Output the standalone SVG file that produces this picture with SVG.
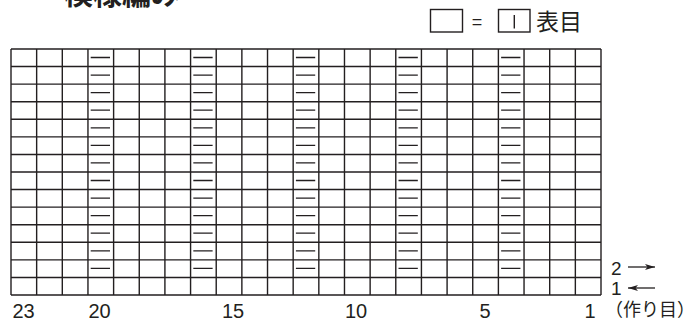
<svg xmlns="http://www.w3.org/2000/svg" width="698" height="325" viewBox="0 0 698 325">
<style>
.g{fill:none;stroke:#231f20;stroke-width:1.4}
.d{fill:none;stroke:#231f20;stroke-width:1.3}
.t{font-family:"Liberation Sans",Arial,sans-serif;fill:#231f20}
.j{font-family:"Noto Sans CJK JP","Noto Sans CJK SC",sans-serif;fill:#231f20}
</style>
<defs>
<marker id="ah" viewBox="0 0 10 6" refX="10" refY="3" markerWidth="10" markerHeight="6" markerUnits="userSpaceOnUse" orient="auto">
<path d="M0,0 L10,3 L0,6 L2.5,3 Z" fill="#231f20"/>
</marker>
</defs>
<rect width="698" height="325" fill="#fff"/>
<text class="j" x="64" y="5" font-size="29" font-weight="bold">模様編み</text>
<g id="legend">
<rect class="g" x="430.5" y="9.5" width="32" height="22.5"/>
<text class="t" x="477" y="28" font-size="18" text-anchor="middle">=</text>
<rect class="g" x="498.5" y="9.5" width="31.5" height="22.5" stroke="#555"/>
<line class="g" x1="514.3" y1="15" x2="514.3" y2="28.5"/>
<text class="j" x="536" y="30" font-size="23">表目</text>
</g>
<g id="grid">
<path class="g" d="M11,49H601M11,66.57H601M11,84.14H601M11,101.71H601M11,119.29H601M11,136.86H601M11,154.43H601M11,172H601M11,189.57H601M11,207.14H601M11,224.71H601M11,242.29H601M11,259.86H601M11,277.43H601M11,295H601"/>
<path class="g" d="M11,49V295M36.65,49V295M62.3,49V295M87.96,49V295M113.61,49V295M139.26,49V295M164.91,49V295M190.57,49V295M216.22,49V295M241.87,49V295M267.52,49V295M293.17,49V295M318.83,49V295M344.48,49V295M370.13,49V295M395.78,49V295M421.43,49V295M447.09,49V295M472.74,49V295M498.39,49V295M524.04,49V295M549.7,49V295M575.35,49V295M601,49V295"/>
</g>
<g id="dashes">
<path id="dcol" class="d" d="M90.7,57.5h19.3M90.7,75.07h19.3M90.7,92.64h19.3M90.7,110.21h19.3M90.7,127.79h19.3M90.7,145.36h19.3M90.7,162.93h19.3M90.7,180.5h19.3M90.7,198.07h19.3M90.7,215.64h19.3M90.7,233.21h19.3M90.7,250.79h19.3M90.7,268.36h19.3"/>
<use href="#dcol" x="102.61"/>
<use href="#dcol" x="205.21"/>
<use href="#dcol" x="307.82"/>
<use href="#dcol" x="410.43"/>
</g>
<g id="labels">
<text class="t" font-size="20" y="318" text-anchor="middle"><tspan x="23.5">23</tspan><tspan x="99.5">20</tspan><tspan x="233">15</tspan><tspan x="356">10</tspan><tspan x="485">5</tspan><tspan x="590">1</tspan></text>
<text class="j" x="605" y="316" font-size="18">（作り目）</text>
<text class="t" x="611" y="275" font-size="19">2</text>
<text class="t" x="611" y="295" font-size="19">1</text>
</g>
<g id="connectors">
<line x1="628" y1="267" x2="655" y2="267" stroke="#231f20" stroke-width="1.3" marker-end="url(#ah)"/>
<line x1="655" y1="288" x2="628" y2="288" stroke="#231f20" stroke-width="1.3" marker-end="url(#ah)"/>
</g>
</svg>
